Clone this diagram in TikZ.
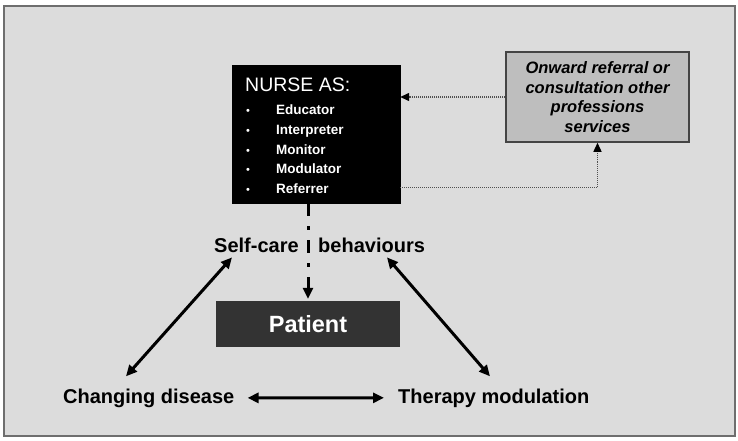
\documentclass[tikz,border=0pt]{standalone}
\usepackage{fontspec}
\setmainfont{Liberation Sans}
\usetikzlibrary{arrows.meta}
\definecolor{bg}{HTML}{DCDCDC}
\definecolor{framegray}{HTML}{6E6E6E}
\definecolor{onwardfill}{HTML}{BEBEBE}
\definecolor{onwardborder}{HTML}{444444}
\definecolor{patientfill}{HTML}{333333}
\definecolor{dotgray}{HTML}{505050}
\begin{document}
\begin{tikzpicture}[x=1pt,y=-1pt,
  heavy/.style={line width=3pt, {Triangle[length=11pt,width=10pt]}-{Triangle[length=11pt,width=10pt]}},
  dotlink/.style={dotgray, line width=1.3pt, dash pattern=on 1pt off 1pt, -{Triangle[length=9pt,width=8pt,color=black,fill=black]}},
  lbl/.style={font=\bfseries\fontsize{20}{24}\selectfont, inner sep=0pt, anchor=base west},
  nurseitem/.style={text=white, font=\bfseries\fontsize{13.5}{16}\selectfont, inner sep=0pt, anchor=base west},
  bul/.style={text=white, font=\fontsize{11}{13}\selectfont, inner sep=0pt, anchor=base west},
]
\useasboundingbox (0,0) rectangle (738,441);
\fill[white] (0,0) rectangle (738,441);
\draw[fill=bg, draw=framegray, line width=1.5pt] (4,6) rectangle (735,436);

% nurse box
\node[draw=black, fill=black, minimum width=168pt, minimum height=138pt, inner sep=0pt] (nurse) at (316,134) {};
\node[text=white, font=\fontsize{19.5}{22}\selectfont, inner sep=0pt, anchor=base west] (nursetitle) at (245,92) {NURSE AS:};
\foreach \t/\yy/\nm in {Educator/114/ed, Interpreter/134/in, Monitor/154/mo, Modulator/173/md, Referrer/193/re}{
  \node[bul] (b\nm) at (246,\yy) {•};
  \node[nurseitem] (i\nm) at (276,\yy) {\t};
}

% onward box
\node[draw=onwardborder, fill=onwardfill, line width=1.5pt, minimum width=183pt, minimum height=90pt, align=center, font=\bfseries\itshape\fontsize{16.5}{19.5}\selectfont, inner sep=0pt] (onward) at (597.5,97) {Onward referral or\\consultation other\\professions\\services};

% patient
\node[fill=patientfill, minimum width=184pt, minimum height=46pt, text=white, font=\bfseries\fontsize{23.5}{28}\selectfont, inner sep=0pt] (patient) at (308,324) {Patient};

% labels
\node[lbl] (selfcare) at (214,252) {Self-care};
\node[lbl] (behav) at (318,252) {behaviours};
\node[lbl] (disease) at (63,403) {Changing disease};
\node[lbl] (therapy) at (398,403) {Therapy modulation};

% connectors
\draw[dotlink] (onward.west) -- (onward.west -| nurse.east);
\draw[dotlink] ([yshift=16pt]nurse.south east) -| (onward.south);
\draw[line width=3pt, dash pattern=on 13pt off 10pt on 4pt off 10pt, -{Triangle[length=11pt,width=10pt]}] (nurse.south -| patient.north) -- ([yshift=2pt]patient.north);
\draw[heavy] ([xshift=18pt,yshift=-5pt]selfcare.south west) -- ([xshift=63pt,yshift=12pt]disease.north west);
\draw[heavy] ([xshift=69pt,yshift=-5pt]behav.south west) -- ([xshift=92pt,yshift=12pt]therapy.north west);
\draw[heavy] ([xshift=13pt]disease.east) -- ([xshift=-14pt]therapy.west);
\end{tikzpicture}
\end{document}
